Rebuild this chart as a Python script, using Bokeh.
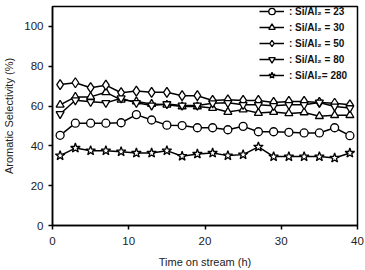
from bokeh.plotting import figure
from bokeh.models import Range1d, SingleIntervalTicker, Legend
from bokeh.embed import file_html
from bokeh.resources import INLINE

# Time on stream (h)
hours = [1, 3, 5, 7, 9, 11, 13, 15, 17, 19, 21, 23, 25, 27, 29, 31, 33, 35, 37, 39]

# Aromatic selectivity (%) for each Si/Al2 ratio
sel_23 = [45.3, 51.4, 51.4, 51.4, 51.6, 55.7, 53.0, 50.4, 50.2, 49.1,
          49.1, 48.1, 49.8, 47.1, 47.1, 46.8, 46.5, 46.5, 49.1, 45.1]
sel_30 = [60.6, 64.6, 64.6, 66.9, 63.1, 62.3, 61.0, 60.6, 59.8, 59.8,
          59.0, 57.0, 58.2, 56.5, 57.0, 56.3, 56.8, 54.9, 55.4, 55.4]
sel_50 = [70.8, 71.7, 69.2, 70.5, 66.7, 67.5, 66.9, 66.9, 65.2, 65.2,
          62.8, 63.1, 62.8, 62.8, 61.8, 62.3, 62.3, 61.8, 61.4, 60.6]
sel_80 = [56.0, 62.9, 62.1, 61.6, 63.9, 61.6, 60.3, 61.0, 60.3, 60.3,
          61.4, 61.6, 60.6, 60.6, 60.1, 60.6, 60.6, 61.8, 59.8, 59.0]
sel_280 = [35.1, 38.9, 37.6, 37.6, 37.1, 36.4, 36.4, 37.6, 34.8, 35.9,
           36.4, 35.1, 35.6, 39.5, 34.6, 34.6, 34.6, 34.6, 33.9, 36.4]

labels = [": Si/Al\u2082 = 23", ": Si/Al\u2082 = 30", ": Si/Al\u2082 = 50",
          ": Si/Al\u2082 = 80", ": Si/Al\u2082= 280"]
markers = ["circle", "triangle", "diamond", "inverted_triangle", "star"]
marker_sizes = [8, 8, 10, 8, 10]
series = [sel_23, sel_30, sel_50, sel_80, sel_280]

FONT = "Liberation Sans"

p = figure(width=365, height=270, output_backend="svg", toolbar_location=None,
           x_range=Range1d(0, 40), y_range=Range1d(0, 110),
           min_border_left=50, min_border_right=8, min_border_top=6,
           min_border_bottom=41)

p.xgrid.visible = False
p.ygrid.visible = False
p.outline_line_color = "black"
p.outline_line_width = 1.5
p.outline_line_alpha = 1.0

p.xaxis.ticker = SingleIntervalTicker(interval=10)
p.yaxis.ticker = SingleIntervalTicker(interval=20)
p.xaxis.axis_label = "Time on stream (h)"
p.yaxis.axis_label = "Aromatic Selectivity (%)"

for ax in (p.xaxis[0], p.yaxis[0]):
    ax.axis_line_color = "black"
    ax.axis_line_width = 1.5
    ax.major_tick_line_color = "black"
    ax.major_tick_line_width = 1.5
    ax.major_tick_out = 4
    ax.major_tick_in = 0
    ax.minor_tick_line_color = None
    ax.major_label_text_font = FONT
    ax.major_label_text_font_size = "11.5px"
    ax.major_label_text_color = "#222222"
    ax.axis_label_text_font = FONT
    ax.axis_label_text_font_size = "11px"
    ax.axis_label_text_font_style = "normal"
    ax.axis_label_text_color = "#222222"
p.xaxis.major_label_standoff = 7
p.xaxis.axis_label_standoff = 8
p.yaxis.axis_label_standoff = 6

items = []
for vals, lab, mk, ms in zip(series, labels, markers, marker_sizes):
    ln = p.line(hours, vals, line_color="black", line_width=1.5)
    sc = p.scatter(hours, vals, marker=mk, size=ms, fill_color="white",
                   line_color="black", line_width=1.3)
    items.append((lab, [ln, sc]))

legend = Legend(items=items, location=(207, 142))
legend.padding = 0
legend.spacing = 0
legend.glyph_width = 25
legend.glyph_height = 16
legend.label_height = 16
legend.label_standoff = 5
legend.label_text_font = FONT
legend.label_text_font_style = "bold"
legend.label_text_font_size = "10px"
legend.label_text_color = "#111111"
legend.background_fill_alpha = 0
legend.border_line_color = None
p.add_layout(legend)

open("out.html", "w").write(file_html(p, INLINE))
